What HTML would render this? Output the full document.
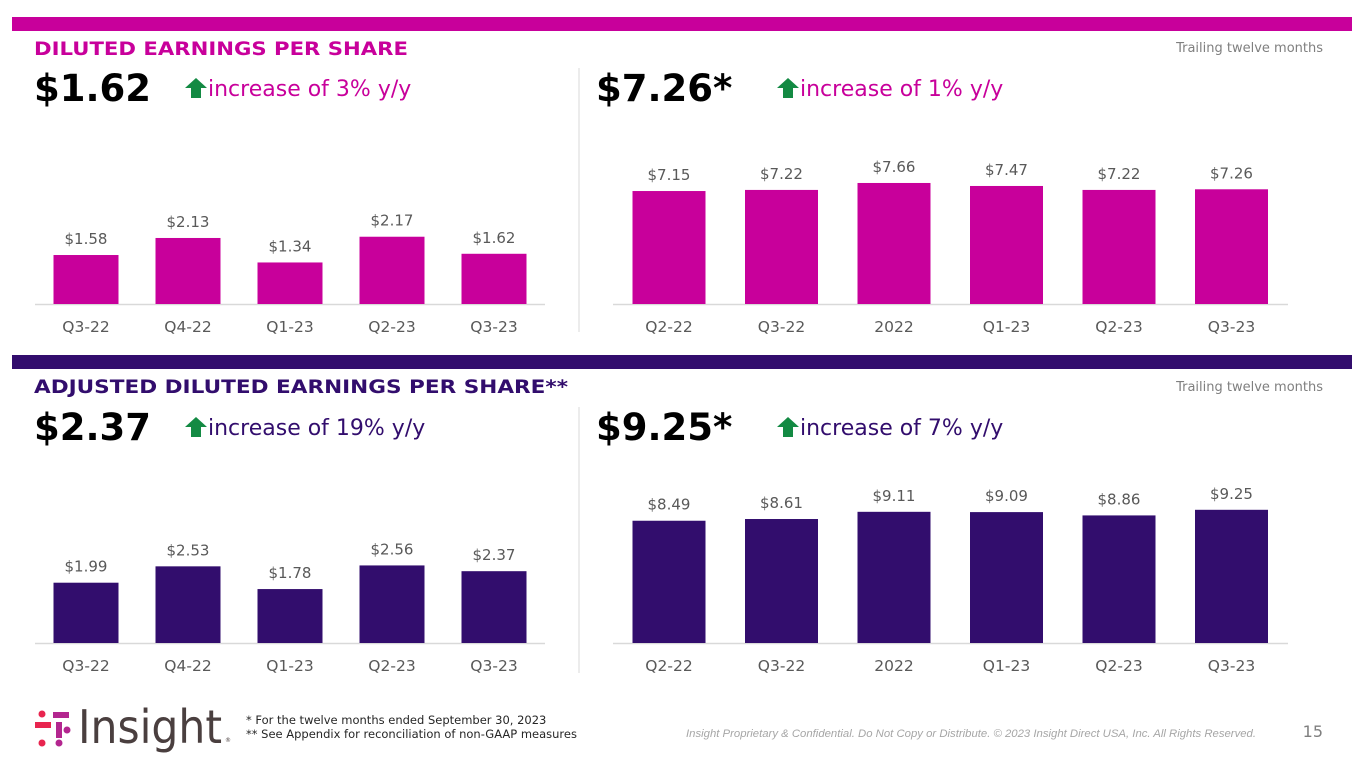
<!DOCTYPE html>
<html><head><meta charset="utf-8"><style>
body{margin:0;width:1365px;height:768px;background:#fff;overflow:hidden;font-family:"DejaVu Sans","Liberation Sans",sans-serif}
svg{display:block}
</style></head><body>
<svg id="s" width="1365" height="768" font-family="DejaVu Sans, Liberation Sans, sans-serif">
<rect x="12" y="17" width="1340" height="14" fill="#c8009b"/>
<rect x="12" y="355" width="1340" height="14" fill="#320d6d"/>
<text x="34" y="55" font-size="18.5" font-weight="bold" fill="#c8009b" textLength="374" lengthAdjust="spacingAndGlyphs">DILUTED EARNINGS PER SHARE</text>
<text x="34" y="393" font-size="18.5" font-weight="bold" fill="#320d6d" textLength="534" lengthAdjust="spacingAndGlyphs">ADJUSTED DILUTED EARNINGS PER SHARE**</text>
<text x="1323" y="52" font-size="13" fill="#7f7f7f" text-anchor="end">Trailing twelve months</text>
<text x="1323" y="391" font-size="13" fill="#7f7f7f" text-anchor="end">Trailing twelve months</text>
<line x1="579" y1="68" x2="579" y2="332" stroke="#d9d9d9"/>
<line x1="579" y1="407" x2="579" y2="673" stroke="#d9d9d9"/>
<g id="g"></g>
<g>
<circle cx="42" cy="714" r="3.5" fill="#e8254f"/><circle cx="42" cy="743" r="3.5" fill="#e8254f"/>
<rect x="35" y="722" width="16" height="6" fill="#e8254f"/>
<rect x="53" y="712" width="16" height="6" fill="#b3268f"/>
<rect x="56" y="722" width="6" height="16" fill="#b3268f"/>
<circle cx="59" cy="743" r="3.5" fill="#b3268f"/><circle cx="67" cy="730" r="3.5" fill="#b3268f"/>
<text x="78" y="743" font-size="46" fill="#4a3f3f" font-family="DejaVu Sans Condensed, DejaVu Sans, sans-serif" textLength="144" lengthAdjust="spacingAndGlyphs">Insight</text>
<text x="225" y="742" font-size="6" fill="#4a3f3f">®</text>
</g>
<text x="246" y="724" font-size="11.5" fill="#262626">* For the twelve months ended September 30, 2023</text>
<text x="246" y="738" font-size="11.5" fill="#262626">** See Appendix for reconciliation of non-GAAP measures</text>
<text x="686" y="737" font-size="11" font-style="italic" fill="#a6a6a6" textLength="570" lengthAdjust="spacingAndGlyphs" font-family="Liberation Sans, sans-serif">Insight Proprietary &amp; Confidential. Do Not Copy or Distribute. © 2023 Insight Direct USA, Inc. All Rights Reserved.</text>
<text x="1323" y="737" font-size="16" fill="#7f7f7f" text-anchor="end">15</text>
</svg>
<script>
const catsQ=["Q3-22","Q4-22","Q1-23","Q2-23","Q3-23"];
const catsTTM=["Q2-22","Q3-22","2022","Q1-23","Q2-23","Q3-23"];
const dilutedQ=[1.58,2.13,1.34,2.17,1.62];
const dilutedTTM=[7.15,7.22,7.66,7.47,7.22,7.26];
const adjQ=[1.99,2.53,1.78,2.56,2.37];
const adjTTM=[8.49,8.61,9.11,9.09,8.86,9.25];
const headlines=["$1.62","$7.26*","$2.37","$9.25*"];
const changes=["increase of 3% y/y","increase of 1% y/y","increase of 19% y/y","increase of 7% y/y"];
const NS="http://www.w3.org/2000/svg";
const g=document.getElementById('g');
function mk(t,a,p){const e=document.createElementNS(NS,t);for(const k in a)e.setAttribute(k,a[k]);(p||g).appendChild(e);return e;}
const panels=[
 {cats:catsQ,vals:dilutedQ,x0:35,x1:545,base:304,scale:31,bw:65,col:"#c8009b",hx:34,tc:"#c8009b",ax:186,hy:88},
 {cats:catsTTM,vals:dilutedTTM,x0:613,x1:1288,base:304,scale:15.8,bw:73,col:"#c8009b",hx:596,tc:"#c8009b",ax:778,hy:88},
 {cats:catsQ,vals:adjQ,x0:35,x1:545,base:643,scale:30.3,bw:65,col:"#320d6d",hx:34,tc:"#320d6d",ax:186,hy:427},
 {cats:catsTTM,vals:adjTTM,x0:613,x1:1288,base:643,scale:14.4,bw:73,col:"#320d6d",hx:596,tc:"#320d6d",ax:778,hy:427}];
panels.forEach((p,i)=>{
 const pg=mk('g',{});
 
 
 const h=mk('text',{x:p.hx,y:p.hy+13,'font-size':37,'font-weight':'bold',fill:'#000'},pg);h.textContent=headlines[i];
 
 
 const ar=mk('path',{d:`M${p.ax+10} ${p.hy-10} L${p.ax+21} ${p.hy} L${p.ax+15} ${p.hy} L${p.ax+15} ${p.hy+10} L${p.ax+5} ${p.hy+10} L${p.ax+5} ${p.hy} L${p.ax-1} ${p.hy} Z`,fill:'#138a43'},pg);
 
 
 const c=mk('text',{x:p.ax+22,y:p.hy+8,'font-size':22,fill:p.tc},pg);c.textContent=changes[i];
 
 
 const step=(i%2==0)?102:112.5;
 const first=(i%2==0)?86:669;
 const bl=mk('line',{x1:p.x0,x2:p.x1,y1:p.base+0.5,y2:p.base+0.5,stroke:'#d9d9d9','stroke-width':1.5},pg);
 
 
 p.vals.forEach((v,j)=>{
  const cx=first+j*step, hh=v*p.scale;
  const r=mk('rect',{x:cx-p.bw/2,y:p.base-hh,width:p.bw,height:hh,fill:p.col},pg);
  
  
  const vt=mk('text',{x:cx,y:p.base-hh-11,'font-size':15,fill:'#595959','text-anchor':'middle'},pg);vt.textContent='$'+v.toFixed(2);
  
  
  const ct=mk('text',{x:cx,y:p.base+28,'font-size':15.5,fill:'#595959','text-anchor':'middle'},pg);ct.textContent=p.cats[j];
  
  
 });
});
</script>
</body></html>
